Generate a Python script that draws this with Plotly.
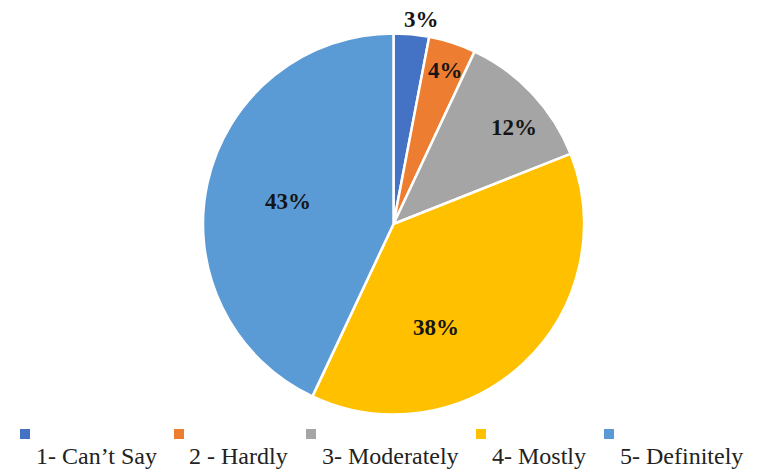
import plotly.graph_objects as go

categories = ["1- Can\u2019t Say", "2 - Hardly", "3- Moderately", "4- Mostly", "5- Definitely"]
values = [3, 4, 12, 38, 43]
colors = ["#4472C4", "#ED7D31", "#A5A5A5", "#FFC000", "#5B9BD5"]

W, H = 757, 470

fig = go.Figure(go.Pie(
    labels=categories,
    values=values,
    sort=False,
    direction="clockwise",
    rotation=0,
    marker=dict(colors=colors, line=dict(color="white", width=2.5)),
    textinfo="none",
    domain=dict(x=[203 / W, 584 / W], y=[1 - 415 / H, 1 - 33 / H]),
    showlegend=False,
    hoverinfo="label+percent",
))

# data label placement (pixel centres, as in the reference's manually placed labels)
label_xy = [(421, 19), (446, 71), (514, 127), (436, 327), (288, 201)]

# custom legend: square above text
sq_x = [25, 179, 311, 481, 609]
txt_x = [96, 238, 390, 539, 681]
shapes = []
annotations = []
for i, cat in enumerate(categories):
    lx, ly = label_xy[i]
    annotations.append(dict(text=f"<b>{values[i]}%</b>", xref="paper", yref="paper",
                            x=lx / W, y=1 - ly / H, showarrow=False,
                            xanchor="center", yanchor="middle",
                            font=dict(family="Liberation Serif", size=23, color="#151515")))
    shapes.append(dict(type="rect", xref="paper", yref="paper",
                       x0=(sq_x[i] - 5) / W, x1=(sq_x[i] + 5) / W,
                       y0=1 - 439 / H, y1=1 - 429 / H,
                       fillcolor=colors[i], line=dict(width=0)))
    annotations.append(dict(text=cat, xref="paper", yref="paper",
                            x=txt_x[i] / W, y=1 - 456 / H, showarrow=False,
                            xanchor="center", yanchor="middle",
                            font=dict(family="Liberation Serif", size=24, color="#222222")))

fig.update_layout(
    width=W, height=H,
    margin=dict(l=0, r=0, t=0, b=0),
    paper_bgcolor="white",
    plot_bgcolor="white",
    shapes=shapes,
    annotations=annotations,
)

fig.write_html("out.html", config={"displayModeBar": False},
               post_script="document.body.style.margin='0';document.body.style.overflow='hidden';")
